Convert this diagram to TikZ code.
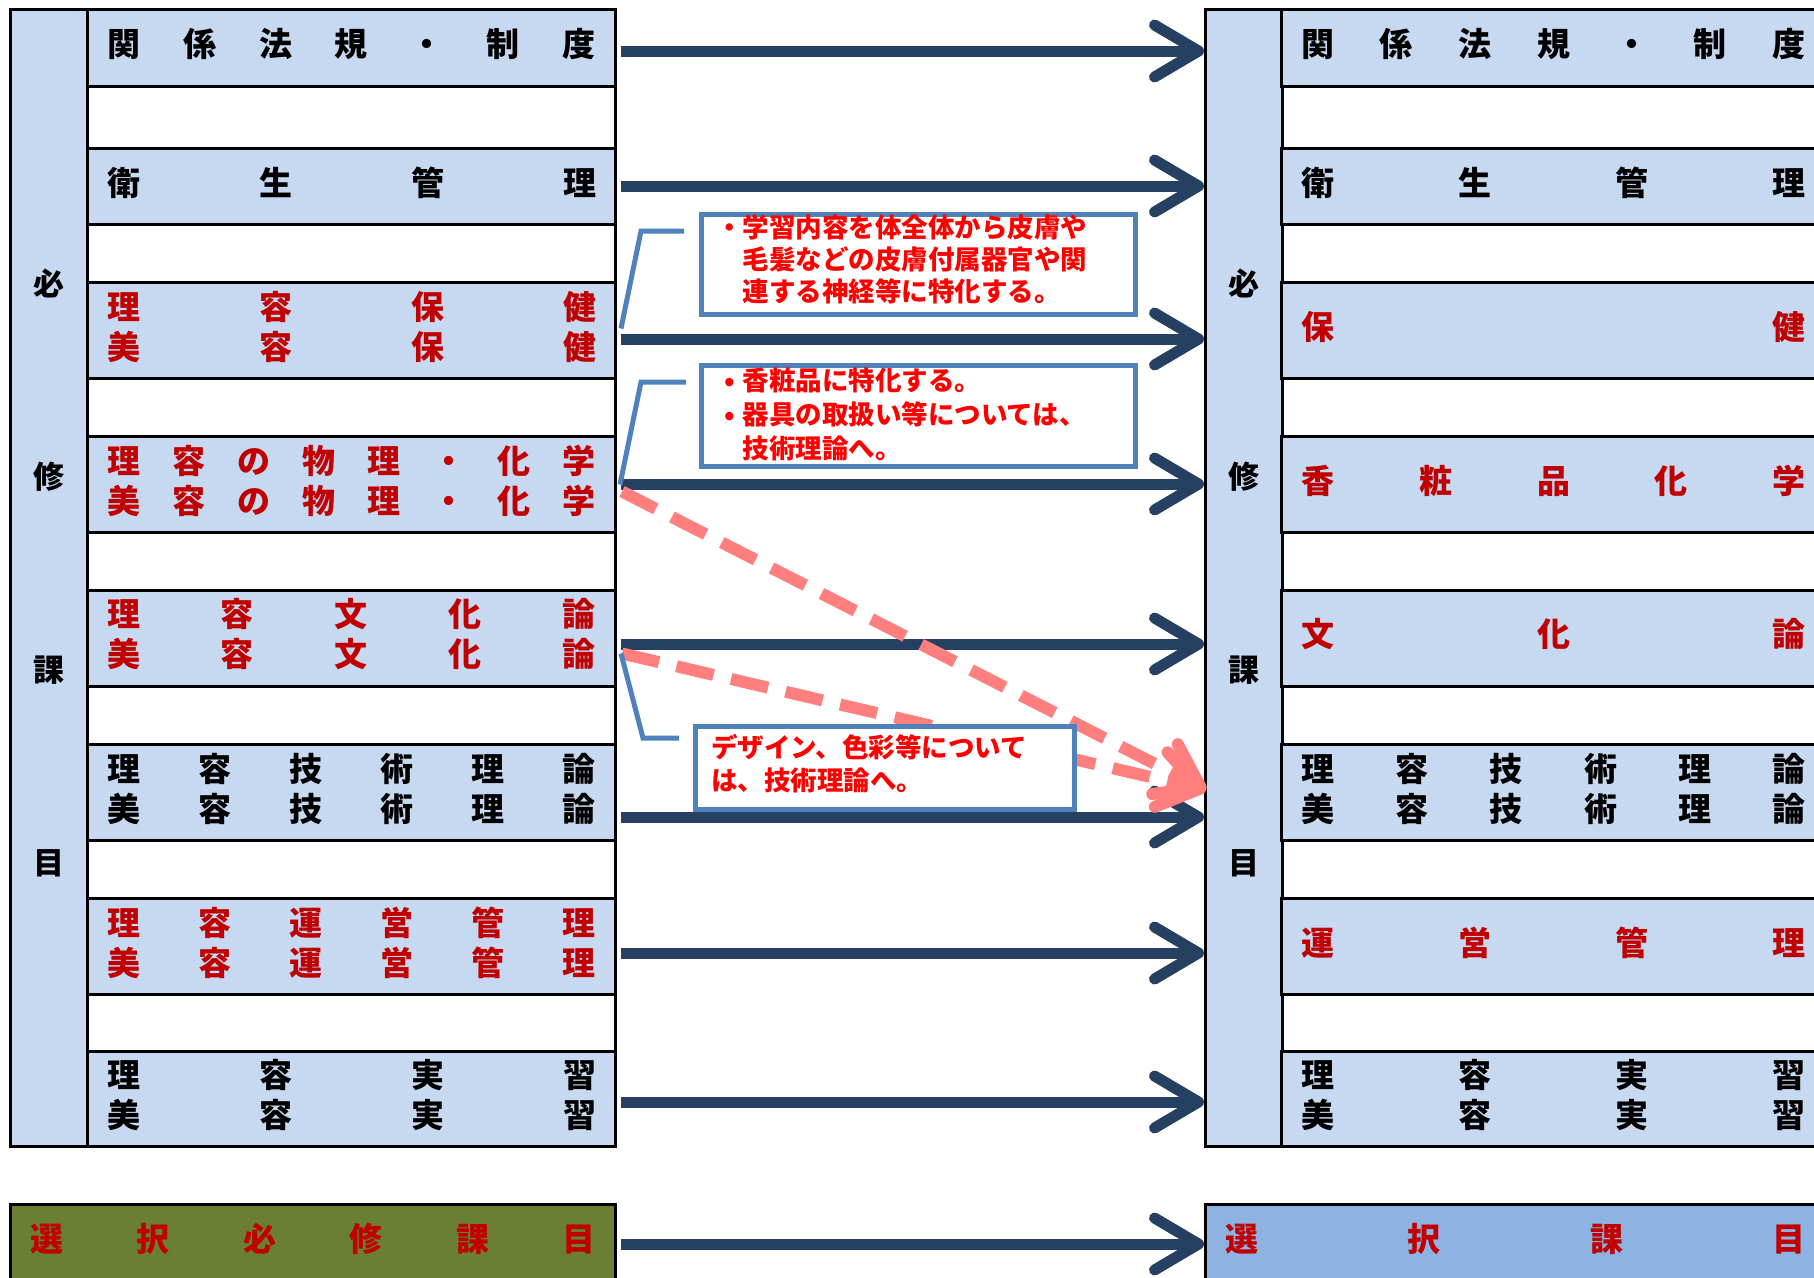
\documentclass[tikz,border=0pt]{standalone}
\usepackage{fontspec}
\newfontfamily\jp{Noto Sans CJK JP}
\usetikzlibrary{calc}
\usetikzlibrary{arrows.meta}
\definecolor{rowblue}{HTML}{C6D9F1}
\definecolor{selblue}{HTML}{8DB3E2}
\definecolor{selgreen}{HTML}{6B7F34}
\definecolor{darkred}{HTML}{C00000}
\definecolor{navy}{HTML}{254061}
\definecolor{noteblue}{HTML}{4F81BD}
\definecolor{notered}{HTML}{FF0000}
\definecolor{salmon}{HTML}{FF7F7F}
\newcommand\spaced[2]{\makebox[#1][s]{\spacedi#2\relax}}
\def\spacedi#1#2{#1\ifx\relax#2\else\hfill\expandafter\spacedi\fi#2}

\begin{document}
\begin{tikzpicture}[x=1pt,y=-1pt,inner sep=0pt,
  cell/.style={draw=black,line width=3pt,anchor=north west},
  subj/.style={cell,fill=rowblue,minimum height=96},
  subjL/.style={subj,minimum width=528},
  subjR/.style={subj,minimum width=544},
  side/.style={cell,fill=rowblue,minimum width=77,minimum height=1137},
  txt/.style={align=center,yshift=4pt,font=\jp\bfseries\fontsize{33}{40}\selectfont},
  sidetxt/.style={align=center,yshift=5pt,font=\jp\bfseries\fontsize{31}{193}\selectfont},
  sel/.style={font=\jp\bfseries\fontsize{33}{40}\selectfont,text=darkred},
  flow/.style={navy,line width=11pt,shorten <=4pt,-{Straight Barb[length=44pt,width=52pt,round]}},
  moved/.style={salmon,line width=12pt,dash pattern=on 38pt off 18pt,-{Straight Barb[length=40pt,width=56pt,round]}},
  callout/.style={draw=noteblue,line width=5pt,fill=white,anchor=north west},
  notetxt/.style={anchor=west,align=left,text=notered,font=\jp\bfseries\fontsize{26.5}{32}\selectfont},
  lead/.style={noteblue,line width=5pt}]
\useasboundingbox (0,0) rectangle (1814,1277);
\clip (0,0) rectangle (1814,1277);
\def\wl{489pt}
\def\wr{504pt}

\node[cell,fill=white,minimum width=605,minimum height=1137] (Lbox) at (9,8) {};
\node[side] (Lcol) at (9,8) {};
\node[sidetxt] (Lcolt) at (Lcol) {必\\修\\課\\目};
\node[subjL,minimum height=77] (L1) at (86,8) {};
\node[subjL,minimum height=76] (L2) at (86,147) {};
\node[subjL] (L3) at (86,281) {};
\node[subjL] (L4) at (86,435) {};
\node[subjL] (L5) at (86,589) {};
\node[subjL] (L6) at (86,743) {};
\node[subjL] (L7) at (86,897) {};
\node[subjL,minimum height=95] (L8) at (86,1050) {};
\node[txt] (L1t) at (L1) {\spaced{\wl}{関係法規・制度}};
\node[txt] (L2t) at (L2) {\spaced{\wl}{衛生管理}};
\node[txt,text=darkred] (L3t) at (L3) {\spaced{\wl}{理容保健}\\\spaced{\wl}{美容保健}};
\node[txt,text=darkred] (L4t) at (L4) {\spaced{\wl}{理容の物理・化学}\\\spaced{\wl}{美容の物理・化学}};
\node[txt,text=darkred] (L5t) at (L5) {\spaced{\wl}{理容文化論}\\\spaced{\wl}{美容文化論}};
\node[txt] (L6t) at (L6) {\spaced{\wl}{理容技術理論}\\\spaced{\wl}{美容技術理論}};
\node[txt,text=darkred] (L7t) at (L7) {\spaced{\wl}{理容運営管理}\\\spaced{\wl}{美容運営管理}};
\node[txt] (L8t) at (L8) {\spaced{\wl}{理容実習}\\\spaced{\wl}{美容実習}};

\node[cell,fill=white,minimum width=640,minimum height=1137] (Rbox) at (1204,8) {};
\node[side] (Rcol) at (1204,8) {};
\node[sidetxt] (Rcolt) at (Rcol) {必\\修\\課\\目};
\node[subjR,minimum height=77] (R1) at (1280,8) {};
\node[subjR,minimum height=76] (R2) at (1280,147) {};
\node[subjR] (R3) at (1280,281) {};
\node[subjR] (R4) at (1280,435) {};
\node[subjR] (R5) at (1280,589) {};
\node[subjR] (R6) at (1280,743) {};
\node[subjR] (R7) at (1280,897) {};
\node[subjR,minimum height=95] (R8) at (1280,1050) {};
\node[txt] (R1t) at (R1) {\spaced{\wr}{関係法規・制度}};
\node[txt] (R2t) at (R2) {\spaced{\wr}{衛生管理}};
\node[txt,text=darkred] (R3t) at (R3) {\spaced{\wr}{保健}};
\node[txt,text=darkred] (R4t) at (R4) {\spaced{\wr}{香粧品化学}};
\node[txt,text=darkred] (R5t) at (R5) {\spaced{\wr}{文化論}};
\node[txt] (R6t) at (R6) {\spaced{\wr}{理容技術理論}\\\spaced{\wr}{美容技術理論}};
\node[txt,text=darkred] (R7t) at (R7) {\spaced{\wr}{運営管理}};
\node[txt] (R8t) at (R8) {\spaced{\wr}{理容実習}\\\spaced{\wr}{美容実習}};

\node[cell,fill=selgreen,minimum width=605,minimum height=90] (Lsel) at (9,1203) {};
\node[sel] (LselT) at ($(Lsel.north)+(0,36)$) {\spaced{566pt}{選択必修課目}};
\node[cell,fill=selblue,minimum width=640,minimum height=90] (Rsel) at (1204,1203) {};
\node[sel] (RselT) at ($(Rsel.north)+(-10,36)$) {\spaced{580pt}{選択課目}};

\foreach \r/\y in {1/51,2/186,3/339,4/484,5/644,6/817,7/953,8/1102}
  \draw[flow] (L\r.east |- 0,\y) -- (Rcol.west |- 0,\y);
\draw[flow] (Lsel.east |- 0,1244) -- (Rsel.west |- 0,1244);

\coordinate (hit) at ($(Rcol.west |- 0,790)+(2,0)$);
\draw[moved] ($(L4.east)+(5,7)$) -- (hit);
\draw[moved] ($(L5.east)+(5,15)$) -- (hit);

\node[callout,minimum width=434,minimum height=100] (c1) at (699,212) {};
\node[notetxt] (c1t) at ($(c1.west)+(17,-5)$)
  {・学習内容を体全体から皮膚や\\\hspace*{1em}毛髪などの皮膚付属器官や関\\\hspace*{1em}連する神経等に特化する。};
\node[callout,minimum width=434,minimum height=101] (c2) at (699,363) {};
\node[notetxt,font=\jp\bfseries\fontsize{26.5}{34}\selectfont] (c2t) at ($(c2.west)+(17,-2)$)
  {\makebox[1em]{•}香粧品に特化する。\\\makebox[1em]{•}器具の取扱い等については、\\\hspace*{1em}技術理論へ。};
\node[callout,minimum width=379,minimum height=83] (c3) at (693,724) {};
\node[notetxt,font=\jp\bfseries\fontsize{26.5}{33}\selectfont] (c3t) at ($(c3.west)+(18,-4)$)
  {デザイン、色彩等について\\は、技術理論へ。};

\draw[lead] ($(L3.east)+(4,-2)$) -- ($(c1.north west)+(-58,19)$) -- ($(c1.north west)+(-15,19)$);
\draw[lead] ($(L4.east)+(3,0)$) -- ($(c2.north west)+(-58,19)$) -- ($(c2.north west)+(-13,19)$);
\draw[lead] ($(L5.east)+(4,15)$) -- ($(c3.north west)+(-50,14)$) -- ($(c3.north west)+(-14,14)$);
\end{tikzpicture}
\end{document}
